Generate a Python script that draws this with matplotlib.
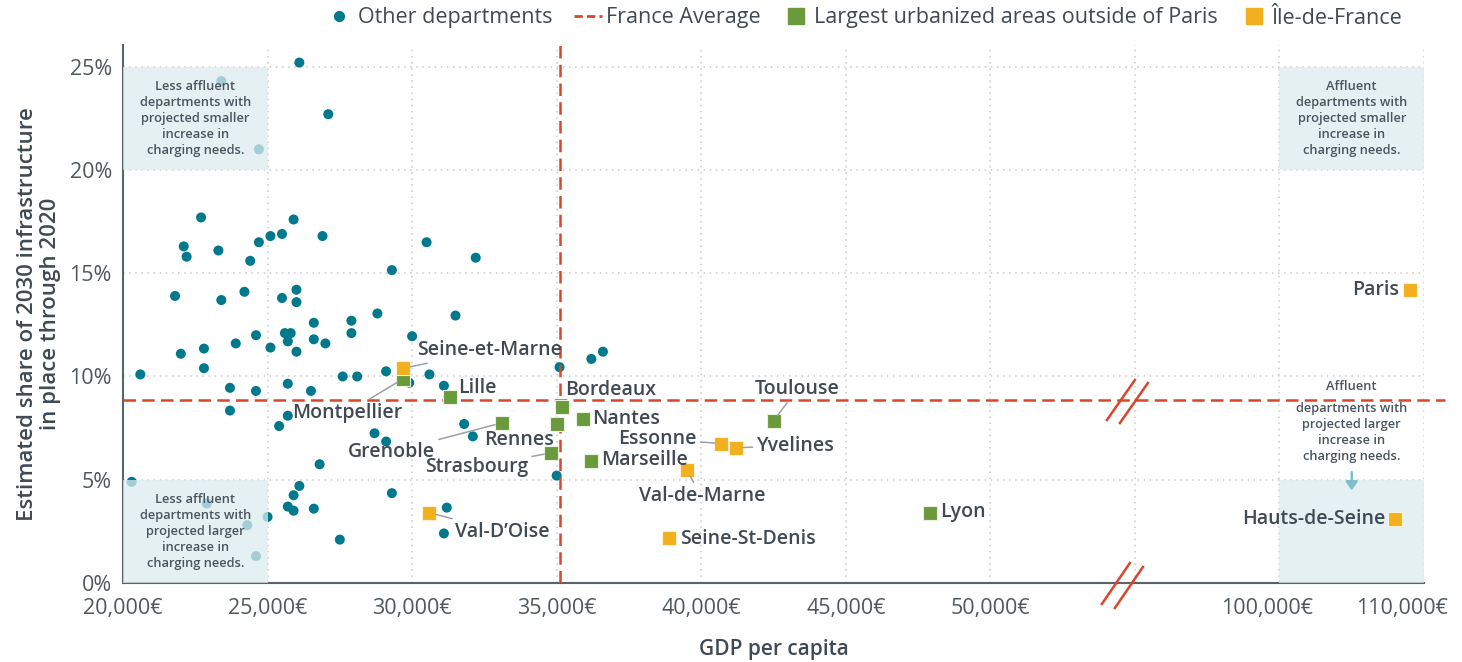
import matplotlib
matplotlib.use("Agg")
import matplotlib.pyplot as plt
import matplotlib.transforms as mtransforms
from matplotlib.lines import Line2D
import numpy as np

# ---------------- data ----------------
other_gdp = [22700, 25900, 22100, 22200, 23300, 24700, 25100, 25500, 24400, 26900,
             21800, 23400, 24200, 25500, 26000, 26000, 26600, 27900, 27900, 24600,
             25600, 25800, 25700, 26600, 27000, 23900, 25100, 26000, 22000, 22800,
             22800, 20600, 27600, 28100, 23700, 24600, 25700, 26500, 23700, 25700,
             25400, 26800, 26100, 25900, 25700, 25900, 26600, 27500, 20300, 22900,
             25000, 24300, 24600, 23400, 24700, 26100, 27100, 30500, 32200, 29300,
             28800, 31500, 30000, 29100, 30600, 29900, 31100, 35100, 36200, 36600,
             31800, 32100, 28700, 29100, 29300, 31200, 31100, 35000]
other_share = [17.7, 17.6, 16.3, 15.8, 16.1, 16.5, 16.8, 16.9, 15.6, 16.8,
               13.9, 13.7, 14.1, 13.8, 14.2, 13.6, 12.6, 12.7, 12.1, 12.0,
               12.1, 12.1, 11.7, 11.8, 11.6, 11.6, 11.4, 11.2, 11.1, 11.35,
               10.4, 10.1, 10.0, 10.0, 9.45, 9.3, 9.65, 9.3, 8.35, 8.1,
               7.6, 5.75, 4.7, 4.25, 3.7, 3.5, 3.6, 2.1, 4.9, 3.85,
               3.2, 2.8, 1.3, 24.3, 21.0, 25.2, 22.7, 16.5, 15.75, 15.15,
               13.05, 12.95, 11.95, 10.25, 10.1, 9.7, 9.55, 10.45, 10.85, 11.2,
               7.7, 7.1, 7.25, 6.85, 4.35, 3.65, 2.4, 5.2]

urban_names = ["Montpellier", "Lille", "Grenoble", "Rennes", "Strasbourg",
               "Bordeaux", "Nantes", "Marseille", "Toulouse", "Lyon"]
urban_gdp = [29700, 31300, 33100, 35000, 34800, 35200, 35900, 36200, 42500, 47900]
urban_share = [9.9, 9.0, 7.75, 7.7, 6.3, 8.5, 7.95, 5.9, 7.85, 3.4]

idf_names = ["Seine-et-Marne", "Val-D’Oise", "Essonne", "Yvelines",
             "Val-de-Marne", "Seine-St-Denis", "Paris", "Hauts-de-Seine"]
idf_gdp = [29700, 30600, 40700, 41200, 39500, 38900, 109000, 108000]
idf_share = [10.4, 3.4, 6.75, 6.55, 5.45, 2.2, 14.2, 3.1]

france_avg_gdp = 35100
france_avg_share = 8.86

x_ticks = [20000, 25000, 30000, 35000, 40000, 45000, 50000, 100000, 110000]
x_tick_labels = ["20,000€", "25,000€", "30,000€", "35,000€", "40,000€",
                 "45,000€", "50,000€", "100,000€", "110,000€"]
x_break = 55000
y_ticks = [0, 5, 10, 15, 20, 25]
y_tick_labels = ["0%", "5%", "10%", "15%", "20%", "25%"]

legend_labels = ["Other departments", "France Average",
                 "Largest urbanized areas outside of Paris", "Île-de-France"]

# ---------------- style ----------------
TEAL = "#00798c"
GREEN = "#6b9a3c"
ORANGE = "#f2b01e"
RED = "#d8472b"
TXT = "#3f4a54"
TICK = "#50585f"
BOX = "#dbebee"
GRID = "#c9c9c9"

plt.rcParams["font.family"] = ["Open Sans", "DejaVu Sans"]

# broken axis: compress 55k..100k, and 100k..110k at half scale
_src = [-1e6, 55000, 100000, 1e6]
_dst = [-1e6, 55000, 60000, 510000]


def fwd(x):
    return np.interp(np.asarray(x, float), _src, _dst)


def inv(x):
    return np.interp(np.asarray(x, float), _dst, _src)


W, H = 1462, 662
fig = plt.figure(figsize=(W / 100, H / 100), dpi=100)
ax = fig.add_axes([123 / W, 79 / H, (1424 - 123) / W, (583 - 45) / H])
ax.set_xscale("function", functions=(fwd, inv))
ax.set_xlim(20000, 110000)
ax.set_ylim(0, 26.05)

# grid
ax.set_xticks(x_ticks)
ax.set_xticklabels(x_tick_labels)
ax.set_xticks([x_break], minor=True)
ax.set_yticks(y_ticks)
ax.set_yticklabels(y_tick_labels)
ax.grid(True, which="both", color=GRID, linestyle=(0, (1, 3)), lw=1.1, zorder=0)
ax.set_axisbelow(True)
ax.tick_params(axis="both", which="both", length=0, colors=TICK, labelsize=15.5)
ax.tick_params(axis="x", pad=11)
ax.tick_params(axis="y", pad=8)
for sp in ("top", "right"):
    ax.spines[sp].set_visible(False)
for sp in ("left", "bottom"):
    ax.spines[sp].set_color("#5b636a")
    ax.spines[sp].set_linewidth(1.5)

# shift the last two tick labels a little to the left (as in the reference)
for lbl, dx in zip(ax.get_xticklabels()[-2:], (-12, -22)):
    lbl.set_transform(lbl.get_transform() +
                      mtransforms.ScaledTranslation(dx / 100, 0, fig.dpi_scale_trans))

# other departments
ax.scatter(other_gdp, other_share, s=52, color=TEAL, edgecolor="none", zorder=2)

# quadrant boxes (drawn over dots, so dots underneath appear faded)
for (x0, x1, y0, y1) in [(20000, 25000, 20, 25), (20000, 25000, 0, 5),
                         (100000, 110000, 20, 25), (100000, 110000, 0, 5)]:
    ax.fill_between([x0, x1], y0, y1, color=BOX, alpha=0.75, lw=0, zorder=3)

box_kw = dict(ha="center", va="center", fontsize=9.3, fontweight=600,
              color="#4a555f", linespacing=1.3, zorder=6)
ax.text(22500, 22.5, "Less affluent\ndepartments with\nprojected smaller\nincrease in\ncharging needs.", **box_kw)
ax.text(22500, 2.5, "Less affluent\ndepartments with\nprojected larger\nincrease in\ncharging needs.", **box_kw)
ax.text(105000, 22.5, "Affluent\ndepartments with\nprojected smaller\nincrease in\ncharging needs.", **box_kw)
ax.text(105000, 9.5, "Affluent", **box_kw)
ax.text(105000, 7.3, "departments with\nprojected larger\nincrease in\ncharging needs.", **box_kw)
ax.annotate("", xy=(105000, 4.35), xytext=(105000, 5.5),
            arrowprops=dict(arrowstyle="-|>,head_width=0.35,head_length=0.5",
                            color="#7fbfcb", lw=1.8), zorder=6)

# France average lines
ax.axvline(france_avg_gdp, color=RED, lw=1.8, ls=(0, (5, 2.5)), zorder=4)
ax.axhline(france_avg_share, xmin=0, xmax=1.016, color=RED, lw=1.8,
           ls=(0, (5, 2.5)), zorder=4, clip_on=False)

# labelled groups
ax.scatter(urban_gdp, urban_share, s=95, marker="s", color=GREEN,
           edgecolor="#e9f1e0", lw=0.8, zorder=5)
ax.scatter(idf_gdp, idf_share, s=95, marker="s", color=ORANGE,
           edgecolor="#fff3d6", lw=0.8, zorder=5)

# label layout: (dx px, dy px, ha, leader)
layout = {
    "Seine-et-Marne": (14, 18, "left", True),
    "Montpellier": (-56, -34, "center", True),
    "Lille": (8, 9, "left", False),
    "Grenoble": (-67, -29, "right", True),
    "Rennes": (-3, -16, "right", False),
    "Strasbourg": (-23, -14, "right", True),
    "Bordeaux": (3, 17, "left", False),
    "Nantes": (9, 0, "left", False),
    "Marseille": (10, 1, "left", False),
    "Toulouse": (24, 32, "center", True),
    "Essonne": (-25, 5, "right", True),
    "Yvelines": (21, 2, "left", True),
    "Val-de-Marne": (15, -26, "center", True),
    "Seine-St-Denis": (11, -1, "left", False),
    "Val-D’Oise": (26, -19, "left", True),
    "Lyon": (11, 1, "left", False),
    "Paris": (-10, 0, "right", False),
    "Hauts-de-Seine": (-10, 0, "right", False),
}
for names, gs, ss in ((urban_names, urban_gdp, urban_share),
                      (idf_names, idf_gdp, idf_share)):
    for n, g, s in zip(names, gs, ss):
        dx, dy, ha, leader = layout[n]
        kw = {}
        if leader:
            kw["arrowprops"] = dict(arrowstyle="-", color="#9aa1a7", lw=1.1,
                                    shrinkA=1, shrinkB=5)
        ax.annotate(n, xy=(g, s), xytext=(dx, dy), textcoords="offset pixels",
                    ha=ha, va="center", fontsize=14, fontweight=600,
                    color=TXT, zorder=7, **kw)

# axis labels
ax.set_xlabel("GDP per capita", fontsize=15, fontweight=600, color=TXT, labelpad=14)
ax.set_ylabel("Estimated share of 2030 infrastructure\nin place through 2020",
              fontsize=16, fontweight=600, color=TXT, labelpad=6, linespacing=1.1)

# axis-break marks
fig.canvas.draw()
for anchor, segs in (((x_break, france_avg_share), [((-28, -20), (0, 20)), ((-15, -23), (13, 17))]),
                     ((x_break, 0), [((-33, -21), (-5, 20)), ((-20, -25), (8, 16))])):
    ax0, ay0 = ax.transData.transform(anchor)
    for (p, q) in segs:
        fig.add_artist(Line2D([ax0 + p[0], ax0 + q[0]], [ay0 + p[1], ay0 + q[1]],
                              transform=mtransforms.IdentityTransform(),
                              color=RED, lw=1.8, zorder=10))

# legend
handles = [
    Line2D([], [], marker="o", ls="", color=TEAL, ms=7),
    Line2D([], [], color=RED, lw=2, ls=(0, (3, 1.5))),
    Line2D([], [], marker="s", ls="", color=GREEN, ms=11),
    Line2D([], [], marker="s", ls="", color=ORANGE, ms=11),
]
leg = fig.legend(handles, legend_labels, loc="center", bbox_to_anchor=(864 / W, 1 - 18 / H),
                 ncol=4, frameon=False, fontsize=15.5, handletextpad=0.2,
                 columnspacing=1.0, handlelength=1.3)
for t in leg.get_texts():
    t.set_color(TXT)

fig.savefig("out.png", dpi=100)
